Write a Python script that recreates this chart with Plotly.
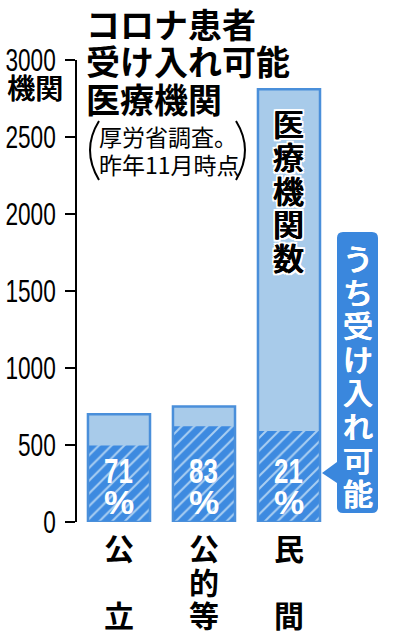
import plotly.graph_objects as go

# ---- data ----
categories = ["公立", "公的等", "民間"]
cat_chars = [["公", None, "立"], ["公", "的", "等"], ["民", None, "間"]]
totals = [700, 750, 2810]
accept_pct = [71, 83, 21]
y_ticks = [0, 500, 1000, 1500, 2000, 2500, 3000]
title_lines = ["コロナ患者", "受け入れ可能", "医療機関"]
sub_lines = ["厚労省調査。", "昨年11月時点"]
bar_label = "医療機関数"
callout = "うち受け入れ可能"

accept = [t * p / 100 for t, p in zip(totals, accept_pct)]
xs = list(range(len(categories)))

# ---- layout helpers (pixel -> paper) ----
W, H = 396, 640
L, R, T, B = 77, 0, 60, 118
PW, PH = W - L - R, H - T - B


def px(x):
    return (x - L) / PW


def py(y):
    return (H - B - y) / PH


LIGHT = "#a8cbea"
BLUE = "#3d8ae0"
EDGE = "#4a8fda"
STRIPE = "#aacff2"
JP = "Noto Sans CJK JP"
JPM = "Noto Sans CJK JP Medium, Noto Sans CJK JP"
NUM = "Liberation Sans, Arial, sans-serif"
BW = 0.73

fig = go.Figure()
fig.add_trace(go.Bar(x=xs, y=totals, width=BW, marker=dict(color=LIGHT, line=dict(width=0)),
                     hoverinfo="skip"))
fig.add_trace(go.Bar(x=xs, y=accept, width=BW,
                     marker=dict(color=BLUE, line=dict(width=0),
                                 pattern=dict(shape="/", fgcolor=STRIPE, bgcolor=BLUE,
                                              size=9, solidity=0.22, fillmode="replace")),
                     hoverinfo="skip"))
fig.add_trace(go.Bar(x=xs, y=totals, width=BW,
                     marker=dict(color="rgba(0,0,0,0)", line=dict(color=EDGE, width=2.5)),
                     hoverinfo="skip"))

ann = []
shapes = []

# percentages inside bars
for i, p in enumerate(accept_pct):
    ann.append(dict(x=i, xref="x", y=py(470), yref="paper", text=str(p), showarrow=False,
                    font=dict(family=NUM, size=35, color="white", weight="bold"),
                    xanchor="center", yanchor="middle"))
    ann.append(dict(x=i, xref="x", y=py(502), yref="paper", text="%", showarrow=False,
                    font=dict(family=NUM, size=34, color="white", weight="bold"),
                    xanchor="center", yanchor="middle"))

# category labels (vertical)
row_y = [547, 581, 614]
for i, chars in enumerate(cat_chars):
    for j, ch in enumerate(chars):
        if ch:
            ann.append(dict(x=i, xref="x", y=py(row_y[j]), yref="paper", text=ch, showarrow=False,
                            font=dict(family=JP, size=30, color="black", weight="bold"),
                            xanchor="center", yanchor="middle"))

# unit label
ann.append(dict(x=px(35), xref="paper", y=py(87), yref="paper", text="機関", showarrow=False,
                font=dict(family=JPM, size=28, color="black", shadow="0.5px 0 0 #000"),
                xanchor="center", yanchor="middle"))

# title
for k, line in enumerate(title_lines):
    ann.append(dict(x=px(84), xref="paper", y=py(24 + 37 * k), yref="paper", text=line, showarrow=False,
                    font=dict(family=JP, size=34, color="black", weight="bold"),
                    xanchor="left", yanchor="middle"))

# subtitle
for k, line in enumerate(sub_lines):
    ann.append(dict(x=px(97), xref="paper", y=py(136 + 28 * k), yref="paper", text=line, showarrow=False,
                    font=dict(family=JP, size=23, color="black"), xanchor="left", yanchor="middle"))

shapes.append(dict(type="path", xref="paper", yref="paper",
                   path=f"M {px(99)},{py(121)} Q {px(81)},{py(150)} {px(99)},{py(180)}",
                   line=dict(color="black", width=2)))
shapes.append(dict(type="path", xref="paper", yref="paper",
                   path=f"M {px(236)},{py(121)} Q {px(254)},{py(150)} {px(236)},{py(180)}",
                   line=dict(color="black", width=2)))

# label inside the private bar
shadow = ("0.6px 0 0 #000, -0.6px 0 0 #000, "
          "2px 0 0 #fff, -2px 0 0 #fff, 0 2px 0 #fff, 0 -2px 0 #fff, "
          "2px 2px 0 #fff, -2px -2px 0 #fff, 2px -2px 0 #fff, -2px 2px 0 #fff")
for k, ch in enumerate(bar_label):
    ann.append(dict(x=px(288), xref="paper", y=py(122 + 33.6 * k), yref="paper", text=ch, showarrow=False,
                    font=dict(family=JPM, size=31, color="black", shadow=shadow),
                    xanchor="center", yanchor="middle"))

# callout box
x0, x1, y0, y1, r = 337, 378, 232, 513, 6
path = (f"M {px(x0 + r)},{py(y0)} L {px(x1 - r)},{py(y0)} Q {px(x1)},{py(y0)} {px(x1)},{py(y0 + r)} "
        f"L {px(x1)},{py(y1 - r)} Q {px(x1)},{py(y1)} {px(x1 - r)},{py(y1)} "
        f"L {px(x0 + r)},{py(y1)} Q {px(x0)},{py(y1)} {px(x0)},{py(y1 - r)} "
        f"L {px(x0)},{py(483)} L {px(322)},{py(473)} L {px(x0)},{py(462)} "
        f"L {px(x0)},{py(y0 + r)} Q {px(x0)},{py(y0)} {px(x0 + r)},{py(y0)} Z")
shapes.append(dict(type="path", xref="paper", yref="paper", path=path,
                   fillcolor="#3a87dd", line=dict(width=0), layer="above"))
for k, ch in enumerate(callout):
    ann.append(dict(x=px(357.5), xref="paper", y=py(257 + 33.6 * k), yref="paper", text=ch, showarrow=False,
                    font=dict(family=JPM, size=30, color="white",
                              shadow="0.6px 0 0 #fff, -0.6px 0 0 #fff"),
                    xanchor="center", yanchor="middle"))

fig.update_layout(
    width=W, height=H,
    margin=dict(l=L, r=R, t=T, b=B, pad=0, autoexpand=False),
    paper_bgcolor="white", plot_bgcolor="white",
    barmode="overlay", showlegend=False,
    xaxis=dict(visible=False, range=[-0.494, 3.259], fixedrange=True, automargin=False),
    yaxis=dict(range=[0, 3000], tickvals=y_ticks, ticktext=[str(v) for v in y_ticks],
               showline=True, linecolor="black", linewidth=2, ticks="outside", ticklen=10,
               tickwidth=2, tickcolor="black", showgrid=False, zeroline=False,
               tickfont=dict(family=NUM, size=31, color="black"), ticklabelstandoff=3,
               fixedrange=True, automargin=False),
    annotations=ann, shapes=shapes,
)

# condense numeric glyphs horizontally (the reference uses a condensed typeface)
post = """
document.body.style.margin='0';document.body.style.padding='0';
var gd=document.getElementById('{plot_id}');
function squash(el, f){
  var w=el.getComputedTextLength();
  if(w>0){el.setAttribute('lengthAdjust','spacingAndGlyphs');el.setAttribute('textLength',(w*f).toFixed(2));}
}
gd.querySelectorAll('.ytick text').forEach(function(t){squash(t,0.73);});
gd.querySelectorAll('.annotation-text').forEach(function(t){
  if(/^[0-9]+$/.test(t.textContent)){squash(t,0.74);}
});
"""

fig.write_html("out.html", config={"displayModeBar": False}, post_script=post)
